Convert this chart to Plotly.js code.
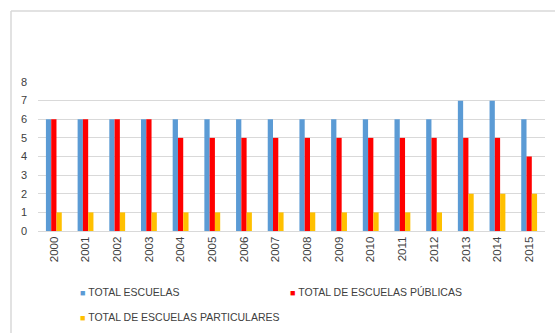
<!DOCTYPE html>
<html>
<head>
<meta charset="utf-8">
<script src="https://cdn.plot.ly/plotly-3.0.1.min.js"></script>
<style>html,body{margin:0;padding:0;background:#fff;}#chart{width:555px;height:333px;}</style>
</head>
<body>
<div id="chart"></div>
<script>
const years = ['2000','2001','2002','2003','2004','2005','2006','2007','2008','2009','2010','2011','2012','2013','2014','2015'];
const totalEscuelas = [6,6,6,6,6,6,6,6,6,6,6,6,6,7,7,6];
const escuelasPublicas = [6,6,6,6,5,5,5,5,5,5,5,5,5,5,5,4];
const escuelasParticulares = [1,1,1,1,1,1,1,1,1,1,1,1,1,2,2,2];
const seriesNames = ['TOTAL ESCUELAS','TOTAL DE ESCUELAS PÚBLICAS','TOTAL DE ESCUELAS PARTICULARES'];
const seriesColors = ['#5B9BD5','#FF0000','#FFC000'];

const data = [totalEscuelas, escuelasPublicas, escuelasParticulares].map((v,i)=>({
  type:'bar', x: years, y: v, name: seriesNames[i],
  marker:{color: seriesColors[i]}, showlegend:false
}));

const W = 555, H = 333, L = 38, R = 10, T = 82, B = 102;
const pw = W - L - R, ph = H - T - B;
const px = x => (x - L) / pw;
const py = y => (H - B - y) / ph;

// legend drawn as annotations: positions (px) of each entry
const legendPos = [[78, 292], [288, 292], [78, 317]];
const annotations = seriesNames.map((n,i)=>({
  xref:'paper', yref:'paper', x: px(legendPos[i][0]), y: py(legendPos[i][1]),
  xanchor:'left', yanchor:'middle', showarrow:false,
  text:'<span style="color:'+seriesColors[i]+';font-size:9px">■</span> '+n,
  font:{size:10.5, color:'#404040', family:'Liberation Sans, Arial, sans-serif'}
}));

const layout = {
  width: W, height: H,
  margin:{l:L, r:R, t:T, b:B, autoexpand:false},
  paper_bgcolor:'#fff', plot_bgcolor:'#fff',
  barmode:'group', bargap:0.5, bargroupgap:0,
  font:{family:'Liberation Sans, Arial, sans-serif', size:11, color:'#404040'},
  showlegend:false,
  xaxis:{type:'category', tickangle:-90, showgrid:false, zeroline:false,
    showline:true, linecolor:'#d9d9d9', ticks:'', tickfont:{size:11.5, color:'#404040'}},
  yaxis:{range:[0,8], dtick:1, showgrid:true, gridcolor:'#d9d9d9', zeroline:false,
    showline:false, ticks:'', ticklabelstandoff:10, tickfont:{size:11, color:'#404040'}},
  annotations: annotations,
  shapes:[
    {type:'line', xref:'paper', yref:'paper', x0:px(11), x1:px(W+5), y0:py(11), y1:py(11), line:{color:'#d9d9d9', width:1.5}},
    {type:'line', xref:'paper', yref:'paper', x0:px(11), x1:px(11), y0:py(11), y1:py(H+5), line:{color:'#d9d9d9', width:1.5}}
  ]
};
Plotly.newPlot('chart', data, layout, {displayModeBar:false, staticPlot:true});
</script>
</body>
</html>
